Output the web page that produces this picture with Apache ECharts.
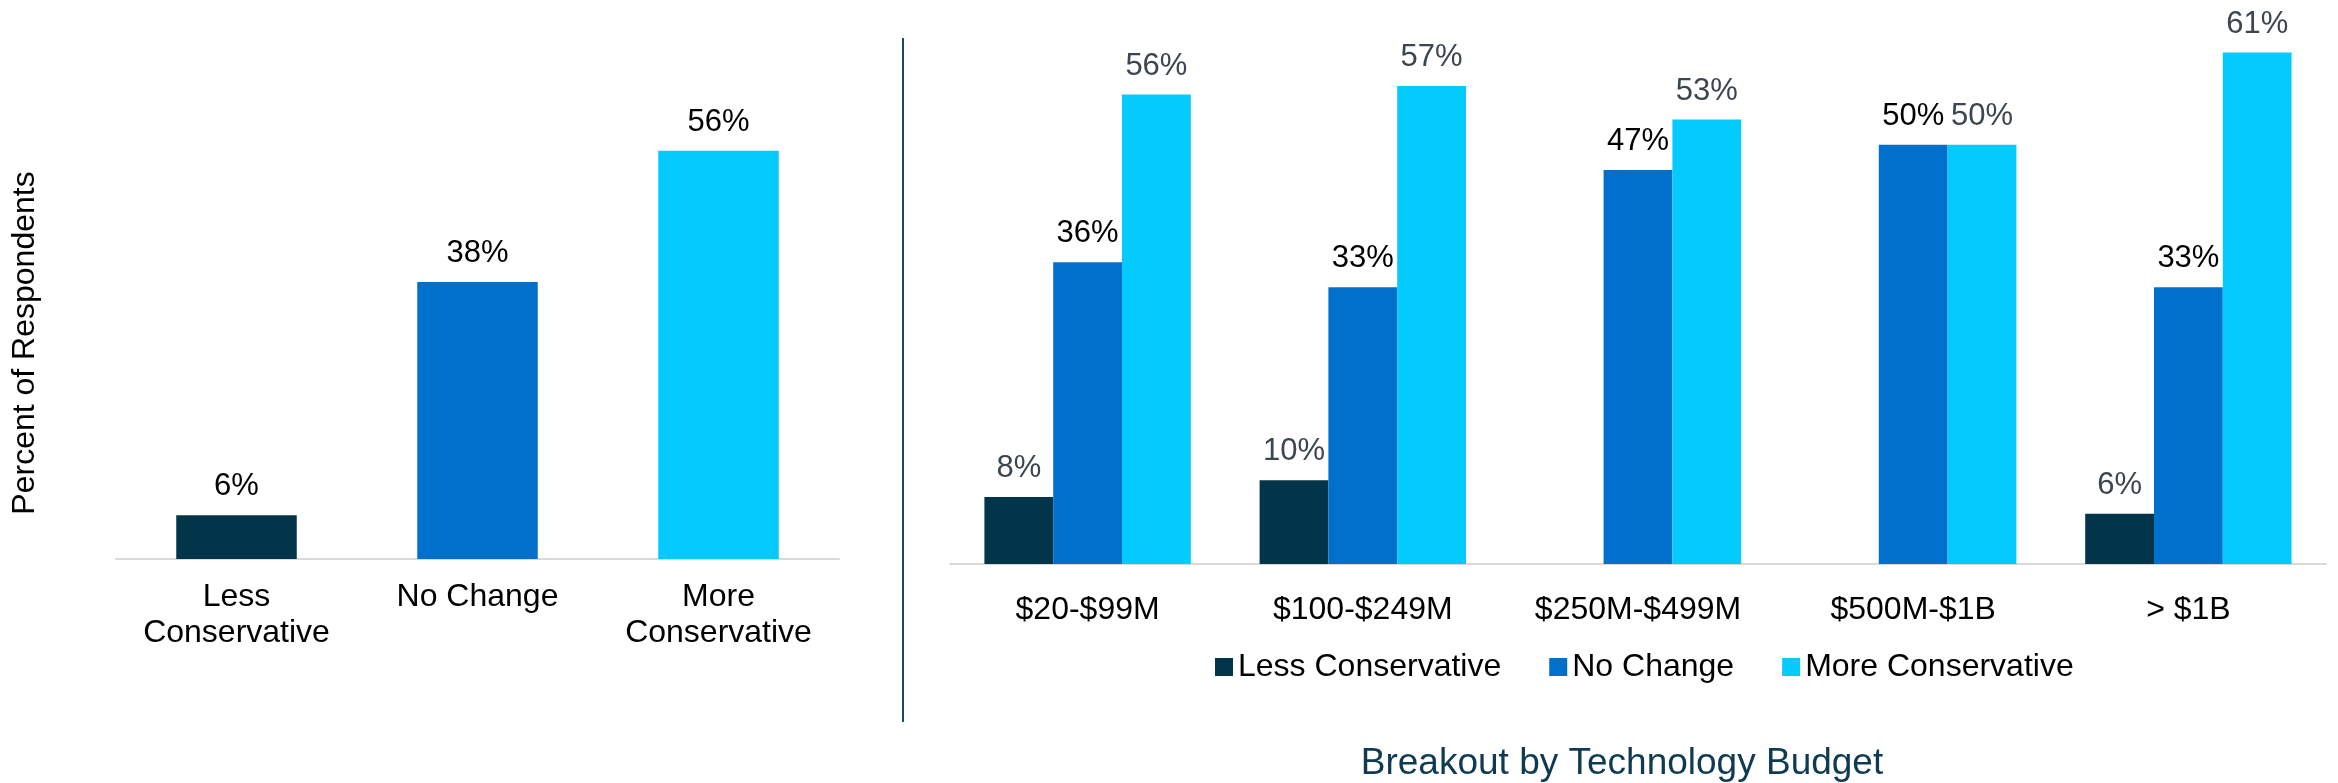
<!DOCTYPE html>
<html>
<head>
<meta charset="utf-8">
<title>Breakout by Technology Budget</title>
<script src="https://cdn.jsdelivr.net/npm/echarts@6/dist/echarts.min.js"></script>
<style>
  html, body { margin: 0; padding: 0; background: #fff; }
  #main { width: 2338px; height: 783px; }
</style>
</head>
<body>
<div id="main"></div>
<script type="text/javascript">
// overall answers
var overallCats = ['Less\nConservative', 'No Change', 'More\nConservative'];
var overallVals = [6, 38, 56];

// breakout by technology budget
var budgetCats = ['$20-$99M', '$100-$249M', '$250M-$499M', '$500M-$1B', '> $1B'];
var lessVals = [8, 10, '-', '-', 6];
var noChangeVals = [36, 33, 47, 50, 33];
var moreVals = [56, 57, 53, 50, 61];

var seriesNames = ['Less Conservative', 'No Change', 'More Conservative'];
var colors = ['#02344A', '#0070CC', '#05CAFE'];

var FONT = "'Liberation Sans', Arial, sans-serif";

var myChart = echarts.init(document.getElementById('main'));

function barLabel(col) {
    return {
        show: true,
        position: 'top',
        distance: 13,
        formatter: '{c}%',
        fontFamily: FONT,
        fontSize: 31,
        color: col
    };
}

var option = {
    backgroundColor: '#fff',
    animation: false,
    textStyle: { fontFamily: FONT },
    title: {
        text: 'Breakout by Technology Budget',
        left: 1617,
        top: 740,
        textAlign: 'center',
        textStyle: { fontFamily: FONT, fontSize: 37, fontWeight: 'normal', color: '#0E3A52' }
    },
    legend: {
        data: seriesNames,
        left: 1210,
        top: 646,
        icon: 'rect',
        itemWidth: 18,
        itemHeight: 18,
        itemGap: 48,
        textStyle: { fontFamily: FONT, fontSize: 32, color: '#000' }
    },
    grid: [{
        left: 116, width: 723, top: 85, bottom: 224
    }, {
        left: 950, width: 1376, top: 19, bottom: 219
    }],
    xAxis: [{
        type: 'category',
        gridIndex: 0,
        data: overallCats,
        axisTick: { show: false },
        axisLine: { lineStyle: { color: '#D9D9D9', width: 2 } },
        axisLabel: { interval: 0, fontFamily: FONT, fontSize: 32, color: '#000', margin: 20, lineHeight: 36 }
    }, {
        type: 'category',
        gridIndex: 1,
        data: budgetCats,
        axisTick: { show: false },
        axisLine: { lineStyle: { color: '#D9D9D9', width: 2 } },
        axisLabel: { interval: 0, fontFamily: FONT, fontSize: 32, color: '#000', margin: 28, lineHeight: 36 }
    }],
    yAxis: [{
        type: 'value', gridIndex: 0, min: 0, max: 65, show: false
    }, {
        type: 'value', gridIndex: 1, min: 0, max: 65, show: false
    }],
    graphic: [{
        type: 'text',
        x: 25, y: 343,
        rotation: Math.PI / 2,
        style: {
            text: 'Percent of Respondents',
            font: '32px ' + FONT,
            fill: '#000',
            textAlign: 'center',
            textVerticalAlign: 'middle'
        }
    }, {
        type: 'line',
        shape: { x1: 903, y1: 38, x2: 903, y2: 722 },
        style: { stroke: '#1B4A68', lineWidth: 2 }
    }],
    series: [{
        name: 'Overall',
        type: 'bar',
        xAxisIndex: 0, yAxisIndex: 0,
        barWidth: '50%',
        label: barLabel('#000'),
        data: overallVals.map(function (v, i) {
            return { value: v, itemStyle: { color: colors[i] } };
        })
    }, {
        name: seriesNames[0],
        type: 'bar',
        xAxisIndex: 1, yAxisIndex: 1,
        barGap: 0,
        barCategoryGap: '25%',
        itemStyle: { color: colors[0] },
        label: barLabel('#3C4650'),
        data: lessVals
    }, {
        name: seriesNames[1],
        type: 'bar',
        xAxisIndex: 1, yAxisIndex: 1,
        barGap: 0,
        barCategoryGap: '25%',
        itemStyle: { color: colors[1] },
        label: barLabel('#000'),
        data: noChangeVals
    }, {
        name: seriesNames[2],
        type: 'bar',
        xAxisIndex: 1, yAxisIndex: 1,
        barGap: 0,
        barCategoryGap: '25%',
        itemStyle: { color: colors[2] },
        label: barLabel('#3C4650'),
        data: moreVals
    }]
};

myChart.setOption(option);
</script>
</body>
</html>
